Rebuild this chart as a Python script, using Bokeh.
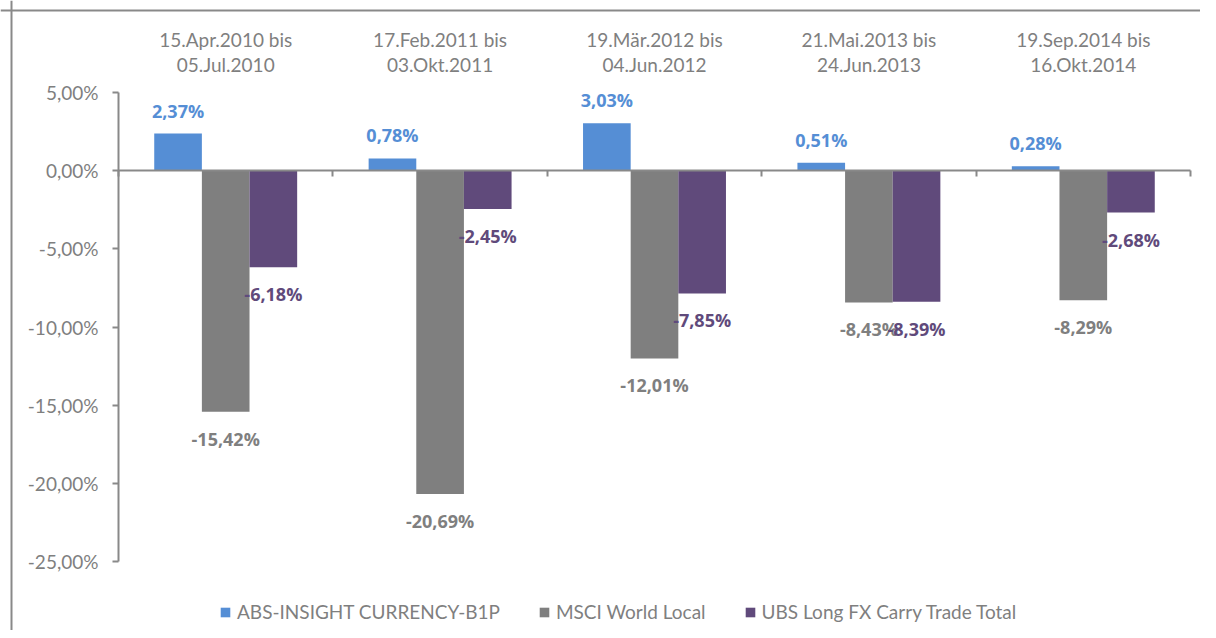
from bokeh.plotting import figure
from bokeh.models import (ColumnDataSource, LinearAxis, FixedTicker,
                          Legend, LegendItem, Range1d, Span)
from bokeh.core.properties import value
from bokeh.embed import file_html
from bokeh.resources import INLINE

# ---------------- data ----------------
period_start = ["15.Apr.2010 bis", "17.Feb.2011 bis", "19.Mär.2012 bis",
                "21.Mai.2013 bis", "19.Sep.2014 bis"]
period_end = ["05.Jul.2010", "03.Okt.2011", "04.Jun.2012",
              "24.Jun.2013", "16.Okt.2014"]
series_names = ["ABS-INSIGHT CURRENCY-B1P", "MSCI World Local",
                "UBS Long FX Carry Trade Total"]
abs_insight = [2.37, 0.78, 3.03, 0.51, 0.28]
msci_world = [-15.42, -20.69, -12.01, -8.43, -8.29]
ubs_carry = [-6.18, -2.45, -7.85, -8.39, -2.68]
y_ticks = [-25, -20, -15, -10, -5, 0, 5]

# ---------------- style / layout ----------------
colors = ["#558ED5", "#7F7F7F", "#604A7B"]
FONT = "Lato"
BOLD_FONT = "Open Sans"
TEXT_GRAY = "#7F7F7F"
AXIS_GRAY = "#898989"

W, H = 1200, 630
PX_LEFT, PX_RIGHT = 118, 1190      # pixel x of category axis start / end
PX_TOP, PX_BOTTOM = 92, 561         # pixel y of 5% and -25%
n = len(period_start)
Y_TOP, Y_BOT = max(y_ticks), min(y_ticks)

sx = (PX_RIGHT - PX_LEFT) / n
sy = (PX_BOTTOM - PX_TOP) / (Y_TOP - Y_BOT)


def px_x(px):
    return (px - PX_LEFT) / sx


def px_y(py):
    return Y_TOP - (py - PX_TOP) / sy


def pct(v):
    return f"{v:.2f}".replace(".", ",") + "%"


bar_w = 2 / 9
offsets = [-bar_w, 0, bar_w]

p = figure(width=W, height=H, output_backend="svg", toolbar_location=None,
           x_range=Range1d(px_x(0), px_x(W)), y_range=Range1d(px_y(H), px_y(0)),
           x_axis_type=None, y_axis_type=None,
           min_border_left=0, min_border_right=0, min_border_top=0, min_border_bottom=0)
p.outline_line_color = None
p.background_fill_color = "white"
p.border_fill_color = "white"

# chart-area border (left + top)
p.add_layout(Span(location=px_x(11), dimension="height", line_color=AXIS_GRAY, line_width=2))
p.add_layout(Span(location=px_y(10), dimension="width", line_color=AXIS_GRAY, line_width=2))

# axes
yaxis = LinearAxis(ticker=FixedTicker(ticks=y_ticks), fixed_location=0,
                   bounds=(Y_BOT, Y_TOP),
                   major_label_overrides={t: pct(t) for t in y_ticks})
yaxis.axis_line_color = AXIS_GRAY
yaxis.axis_line_width = 2
yaxis.major_tick_line_color = AXIS_GRAY
yaxis.major_tick_line_width = 2
yaxis.major_tick_in = 0
yaxis.major_tick_out = 6
yaxis.minor_tick_line_color = None
yaxis.major_label_standoff = 14
yaxis.major_label_text_font = FONT
yaxis.major_label_text_font_size = "19px"
yaxis.major_label_text_color = TEXT_GRAY
p.add_layout(yaxis, "left")

xaxis = LinearAxis(ticker=FixedTicker(ticks=list(range(n + 1))), fixed_location=0,
                   bounds=(0, n))
xaxis.axis_line_color = AXIS_GRAY
xaxis.axis_line_width = 2
xaxis.major_tick_line_color = AXIS_GRAY
xaxis.major_tick_line_width = 2
xaxis.major_tick_in = 0
xaxis.major_tick_out = 6
xaxis.minor_tick_line_color = None
xaxis.major_label_text_color = None
xaxis.major_label_text_font_size = "8px"
p.add_layout(xaxis, "below")

# bars + value labels
series = [abs_insight, msci_world, ubs_carry]
renderers = []
for k, (vals, col) in enumerate(zip(series, colors)):
    xs = [i + 0.5 + offsets[k] for i in range(n)]
    yoff = [-23 if v >= 0 else 27 for v in vals]
    src = ColumnDataSource(dict(x=xs, top=vals, label=[pct(v) for v in vals], yoff=yoff))
    r = p.vbar(x="x", top="top", bottom=0, width=bar_w, source=src,
               fill_color=col, line_color=None)
    renderers.append(r)
    p.text(x="x", y="top", text="label", y_offset="yoff", source=src,
           text_align="center", text_baseline="middle",
           text_font=value(BOLD_FONT), text_font_size="18px",
           text_font_style="bold", text_color=col)

# period labels above the plot
cat_src = ColumnDataSource(dict(x=[i + 0.5 for i in range(n)],
                                l1=period_start, l2=period_end,
                                y1=[px_y(39)] * n, y2=[px_y(64)] * n))
for txt, yy in (("l1", "y1"), ("l2", "y2")):
    p.text(x="x", y=yy, text=txt, source=cat_src,
           text_align="center", text_baseline="middle",
           text_font=value(FONT), text_font_size="19px", text_color=TEXT_GRAY)

legend = Legend(items=[LegendItem(label=nm, renderers=[r])
                       for nm, r in zip(series_names, renderers)],
                orientation="horizontal", location=(219, H - 623))
legend.glyph_width = 12
legend.glyph_height = 12
legend.label_height = 22
legend.label_standoff = 6
legend.spacing = 38
legend.padding = 0
legend.margin = 0
legend.border_line_color = None
legend.background_fill_alpha = 0
legend.label_text_font = FONT
legend.label_text_font_size = "19px"
legend.label_text_color = TEXT_GRAY
p.add_layout(legend, "center")

open("out.html", "w").write(file_html(p, INLINE))
